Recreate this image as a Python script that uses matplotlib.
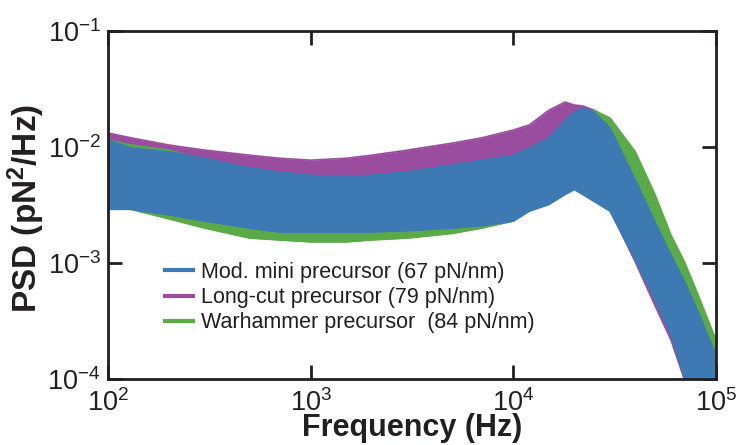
import numpy as np
import matplotlib
matplotlib.use("Agg")
import matplotlib.pyplot as plt
from matplotlib.lines import Line2D

plt.rcParams['font.family'] = ['Liberation Sans', 'DejaVu Sans']
plt.rcParams['mathtext.fontset'] = 'custom'
plt.rcParams['mathtext.rm'] = 'Liberation Sans'
plt.rcParams['mathtext.it'] = 'Liberation Sans'
plt.rcParams['mathtext.bf'] = 'Liberation Sans:bold'

freq = [100, 130, 200, 300, 500, 700, 1000, 1500, 2000, 3000, 5000, 7000,
        10000, 12000, 15000, 18000, 20000, 22000, 25000, 30000, 40000,
        50000, 60000, 70000, 80000, 100000]

# PSD band edges (pN^2/Hz), upper and lower envelope of the noisy traces
mini_hi = [0.0115, 0.0098, 0.0091, 0.0080, 0.0066, 0.0061, 0.0057, 0.0056,
           0.0057, 0.0061, 0.0070, 0.0077, 0.0085, 0.0098, 0.0120, 0.0171,
           0.0200, 0.0217, 0.0200, 0.0146, 0.0052, 0.00226, 0.00117,
           0.00069, 0.00041, 0.000161]
mini_lo = [0.0029, 0.0029, 0.0026, 0.0023, 0.0020, 0.00185, 0.00185,
           0.00185, 0.00185, 0.0019, 0.0020, 0.0021, 0.0023, 0.0028, 0.0032,
           0.0039, 0.0043, 0.0039, 0.0034, 0.0028, 0.00106, 0.00048,
           0.00024, 0.000102, 0.000054, 0.000022]

long_hi = [0.0132, 0.0120, 0.0104, 0.0094, 0.0085, 0.0080, 0.0077, 0.0080,
           0.0085, 0.0094, 0.0108, 0.0120, 0.0140, 0.0155, 0.0208, 0.0244,
           0.0230, 0.0226, 0.0208, 0.0155, 0.0057, 0.0026, 0.00143,
           0.00079, 0.00048, 0.000146]
long_lo = [0.0039, 0.0037, 0.0032, 0.0029, 0.0026, 0.0024, 0.0023, 0.0023,
           0.0023, 0.0023, 0.0026, 0.0029, 0.0032, 0.0035, 0.0043, 0.0049,
           0.0052, 0.0049, 0.0043, 0.0029, 0.00102, 0.00043, 0.000217,
           0.000098, 0.000052, 0.000020]

war_hi = [0.0115, 0.0104, 0.0094, 0.0077, 0.0063, 0.0057, 0.0054, 0.0052,
          0.0054, 0.0057, 0.0066, 0.0073, 0.0080, 0.0094, 0.0115, 0.0146,
          0.0171, 0.0189, 0.0208, 0.0178, 0.0091, 0.0039, 0.00174,
          0.00102, 0.00058, 0.000217]
war_lo = [0.0032, 0.0029, 0.0024, 0.0020, 0.00164, 0.00158, 0.00152,
          0.00152, 0.00158, 0.00164, 0.0018, 0.0020, 0.0023, 0.0029, 0.0035,
          0.0043, 0.0047, 0.0052, 0.0052, 0.0043, 0.0021, 0.00102, 0.00053,
          0.00032, 0.000196, 0.000098]

labels = ["Mod. mini precursor (67 pN/nm)",
          "Long-cut precursor (79 pN/nm)",
          "Warhammer precursor  (84 pN/nm)"]
c_blue = "#3d79b3"
c_purple = "#9a4c9f"
c_green = "#5aaa48"

fig = plt.figure(figsize=(7.41, 4.45), dpi=100)
ax = fig.add_axes([0.1457, 0.1483, 0.8205, 0.782])

# back to front: purple, green, blue
z = 1
for hi, lo, c in [(long_hi, long_lo, c_purple),
                  (war_hi, war_lo, c_green),
                  (mini_hi, mini_lo, c_blue)]:
    ax.fill_between(freq, lo, hi, color=c, lw=0, zorder=z)
    ax.plot(freq, hi, color=c, lw=1.2, zorder=z)
    ax.plot(freq, lo, color=c, lw=1.2, zorder=z)
    z += 1

ax.set_xscale('log')
ax.set_yscale('log')
ax.set_xlim(1e2, 1e5)
ax.set_ylim(1e-4, 1e-1)

ax.set_xticks([1e2, 1e3, 1e4, 1e5])
ax.set_xticklabels([r'$\mathrm{10^{2}}$', r'$\mathrm{10^{3}}$',
                    r'$\mathrm{10^{4}}$', r'$\mathrm{10^{5}}$'])
ax.set_yticks([1e-4, 1e-3, 1e-2, 1e-1])
ax.set_yticklabels([r'$\mathrm{10^{-4}}$', r'$\mathrm{10^{-3}}$',
                    r'$\mathrm{10^{-2}}$', r'$\mathrm{10^{-1}}$'])
ax.minorticks_off()

ax.tick_params(which='major', direction='in', length=10, width=2,
               top=True, right=True, labelsize=19.5, color='#231f20',
               labelcolor='#231f20')
ax.tick_params(axis='x', pad=7)
ax.tick_params(axis='y', pad=5)
for s in ax.spines.values():
    s.set_linewidth(2)
    s.set_color('#231f20')
    s.set_zorder(5)

ax.set_xlabel("Frequency (Hz)", fontsize=22, fontweight='bold',
              color='#231f20')
ax.xaxis.set_label_coords(0.5, -0.098)
ax.set_ylabel(r"PSD (pN$^{\mathbf{2}}$/Hz)", fontsize=24, fontweight='bold',
              color='#231f20')
ax.yaxis.set_label_coords(-0.1, 0.49)

handles = [Line2D([], [], color=c_blue, lw=3),
           Line2D([], [], color=c_purple, lw=3),
           Line2D([], [], color=c_green, lw=3)]
ax.legend(handles, labels, loc='upper left', bbox_to_anchor=(0.094, 0.337),
          frameon=False, fontsize=15.5, handlelength=1.3, handletextpad=0.35,
          labelspacing=0.2, borderpad=0, borderaxespad=0,
          labelcolor='#231f20')

fig.savefig("out.png", dpi=100)
